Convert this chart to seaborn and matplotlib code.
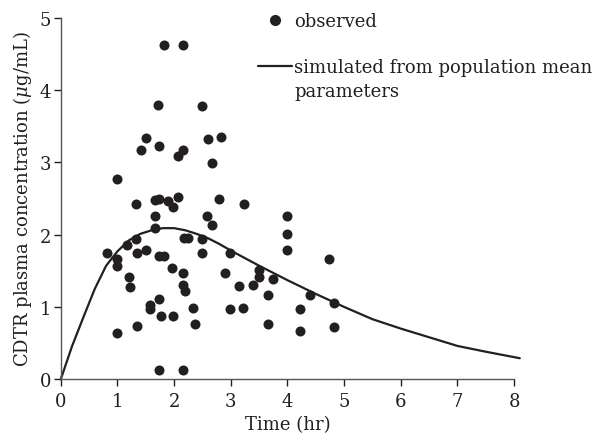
import seaborn as sns
import pandas as pd
import matplotlib.pyplot as plt
from matplotlib.lines import Line2D

# observed CDTR concentrations
obs_time = [1.83, 2.16, 1.72, 2.49, 1.50, 2.59, 2.83, 1.41, 1.73, 2.15,
            2.06, 2.66, 0.99, 1.33, 1.66, 1.73, 1.90, 1.98, 2.06, 2.79,
            3.23, 1.66, 2.58, 2.66, 3.99, 3.99, 3.99, 1.66, 1.33, 2.17,
            2.24, 2.49, 0.82, 0.99, 0.99, 1.16, 1.35, 1.50, 1.74, 1.83,
            2.49, 2.98, 1.21, 1.22, 1.97, 2.16, 2.16, 2.20, 2.90, 3.15,
            3.40, 3.49, 3.49, 3.74, 4.73, 1.58, 1.58, 1.73, 1.77, 1.98,
            2.34, 2.98, 3.21, 3.66, 4.40, 4.23, 4.82, 0.99, 1.35, 2.37,
            3.66, 4.23, 4.82, 1.73, 2.16]
obs_conc = [4.63, 4.63, 3.80, 3.78, 3.34, 3.33, 3.35, 3.17, 3.22, 3.17,
            3.09, 2.99, 2.77, 2.42, 2.48, 2.49, 2.46, 2.38, 2.52, 2.49,
            2.42, 2.26, 2.26, 2.13, 2.26, 2.01, 1.79, 2.09, 1.94, 1.95,
            1.96, 1.94, 1.74, 1.67, 1.56, 1.85, 1.74, 1.79, 1.71, 1.70,
            1.74, 1.74, 1.41, 1.28, 1.54, 1.47, 1.31, 1.22, 1.47, 1.29,
            1.31, 1.41, 1.51, 1.39, 1.67, 1.03, 0.97, 1.11, 0.88, 0.88,
            0.99, 0.97, 0.99, 1.16, 1.16, 0.97, 1.06, 0.64, 0.74, 0.76,
            0.76, 0.67, 0.72, 0.13, 0.13]

# simulated curve from population mean parameters
sim_time = [0, 0.2, 0.4, 0.6, 0.8, 1.0, 1.2, 1.4, 1.6, 1.8, 2.0, 2.2, 2.4,
            2.6, 2.8, 3.0, 3.5, 4.0, 4.5, 5.0, 5.5, 6.0, 6.5, 7.0, 7.5, 8.1]
sim_conc = [0, 0.46, 0.86, 1.25, 1.57, 1.77, 1.92, 2.01, 2.06, 2.09, 2.09,
            2.06, 2.01, 1.95, 1.87, 1.78, 1.57, 1.37, 1.18, 1.00, 0.83, 0.70,
            0.58, 0.46, 0.38, 0.29]

df_obs = pd.DataFrame({'time': obs_time, 'conc': obs_conc})
df_sim = pd.DataFrame({'time': sim_time, 'conc': sim_conc})

sns.set_style('ticks')
plt.rcParams['font.family'] = ['DejaVu Serif']
plt.rcParams['mathtext.fontset'] = 'dejavuserif'

ink = '#231f20'
fs = 13
fig = plt.figure(figsize=(6.02, 4.39), dpi=100)
ax = fig.add_axes([0.101, 0.134, 0.753, 0.823])

sns.lineplot(data=df_sim, x='time', y='conc', color=ink, linewidth=1.6,
             ax=ax, clip_on=False)
sns.scatterplot(data=df_obs, x='time', y='conc', color=ink, s=52, linewidth=0,
                ax=ax, zorder=3, clip_on=False)

ax.set_xlim(0, 8)
ax.set_ylim(0, 5)
ax.set_xticks(range(0, 9))
ax.set_yticks(range(0, 6))
ax.set_xlabel('Time (hr)', fontsize=fs, color=ink, labelpad=4)
ax.set_ylabel(r'CDTR plasma concentration ($\mu$g/mL)', fontsize=fs, color=ink, labelpad=4)
ax.tick_params(labelsize=fs, colors=ink, length=5, width=1)
ax.tick_params(axis='x', pad=4)
ax.tick_params(axis='y', pad=2)
for side in ['left', 'bottom']:
    ax.spines[side].set_color('#555555')
    ax.spines[side].set_linewidth(1)
sns.despine(ax=ax)

# legend: dot entry, then the line entry whose label wraps onto a second line
dot = Line2D([], [], color=ink, marker='o', linestyle='none', markersize=7)
line = Line2D([], [], color=ink, linewidth=1.6)
blank = Line2D([], [], color='none')
fig.legend([dot], ['observed'], loc='center left',
           bbox_to_anchor=(0.4286, 0.95), frameon=False, fontsize=fs,
           handlelength=1.9, handletextpad=0.1, borderpad=0,
           borderaxespad=0, labelcolor=ink)
fig.legend([line, blank], ['simulated from population mean', 'parameters'],
           loc='upper left', bbox_to_anchor=(0.4286, 0.866), frameon=False,
           fontsize=fs, handlelength=1.9, handletextpad=0.1, borderpad=0,
           borderaxespad=0, labelspacing=0.32, labelcolor=ink)

fig.savefig('out.png', dpi=100)
